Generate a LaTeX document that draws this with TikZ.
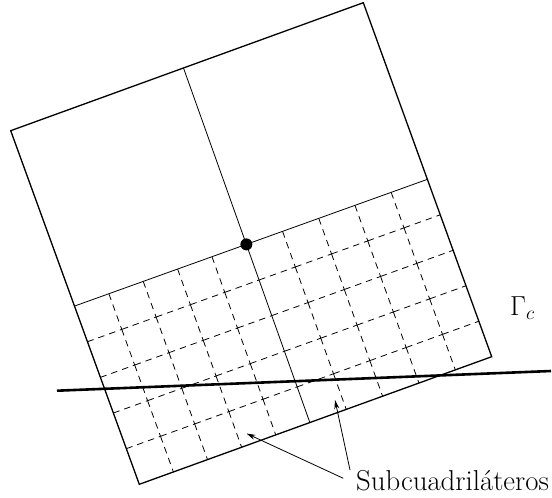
\RequirePackage{fix-cm}
\documentclass[tikz,border=0pt]{standalone}
\usetikzlibrary{calc,arrows.meta}
\begin{document}
\begin{tikzpicture}[x=1pt,y=-1pt,
  outline/.style={line width=1.3pt, line join=miter},
  divline/.style={line width=0.8pt},
  gridline/.style={line width=0.8pt, dash pattern=on 6.5pt off 5pt},
  gammaline/.style={line width=2.6pt},
  pointer/.style={line width=0.8pt,-{Stealth[length=9pt,width=5pt]}},
  lbl/.style={inner sep=0pt, font=\fontsize{27.5}{31}\selectfont},
  bigl/.style={inner sep=0pt, font=\fontsize{28.8}{32}\selectfont}]
\useasboundingbox (0,0) rectangle (552,498);
% corners of the quadrilateral
\coordinate (TL) at (10.7,130.7);
\coordinate (TR) at (363.3,2.7);
\coordinate (BR) at (491.7,356.7);
\coordinate (BL) at (139.3,484.3);
% division points
\coordinate (MT) at ($(TL)!0.49!(TR)$);
\coordinate (MB) at ($(BL)!0.484!(BR)$);
\coordinate (HL) at ($(TL)!0.496!(BL)$);
\coordinate (HR) at ($(TR)!0.499!(BR)$);
\coordinate (C) at (intersection of MT--MB and HL--HR);
% rows of the lower half
\foreach \j in {0,...,5} {
  \coordinate (L\j) at ($(HL)!\j/5!(BL)$);
  \coordinate (M\j) at ($(C)!\j/5!(MB)$);
  \coordinate (R\j) at ($(HR)!\j/5!(BR)$);
}
\foreach \j in {0,...,5} {
  \foreach \i in {0,...,5} {
    \coordinate (gl-\i-\j) at ($(L\j)!\i/5!(M\j)$);
    \coordinate (gr-\i-\j) at ($(M\j)!\i/5!(R\j)$);
  }
}
% dashed sub-grid
\foreach \j in {1,...,4} {
  \foreach \i [evaluate=\i as \ii using int(\i+1)] in {0,...,4} {
    \draw[gridline] (gl-\i-\j) -- (gl-\ii-\j);
    \draw[gridline] (gr-\i-\j) -- (gr-\ii-\j);
  }
}
\foreach \i in {1,...,4} {
  \foreach \j [evaluate=\j as \jj using int(\j+1)] in {0,...,4} {
    \draw[gridline] (gl-\i-\j) -- (gl-\i-\jj);
    \draw[gridline] (gr-\i-\j) -- (gr-\i-\jj);
  }
}
% solid division lines
\draw[divline] (MT) -- (MB);
\draw[divline] (HL) -- (HR);
% outline
\draw[outline] (TL) -- (TR) -- (BR) -- (BL) -- cycle;
% Gamma_c curve
\coordinate (g1) at (57,390.7);
\coordinate (g2) at (551,371);
\draw[gammaline] (g1) -- (g2);
% centre point
\fill (C) circle (6);
% labels
\node[lbl, anchor=base west] (gam) at (510,315) {$\Gamma_c$};
\node[bigl, anchor=base west] (sub) at (356,490) {Subcuadriláteros};
% pointers
\coordinate (a1) at (343.3,478.3);
\coordinate (t1) at (246.5,433.5);
\coordinate (a2) at (350,470);
\coordinate (t2) at (335,400);
\draw[pointer] (a1) -- (t1);
\draw[pointer] (a2) -- (t2);
\end{tikzpicture}
\end{document}
